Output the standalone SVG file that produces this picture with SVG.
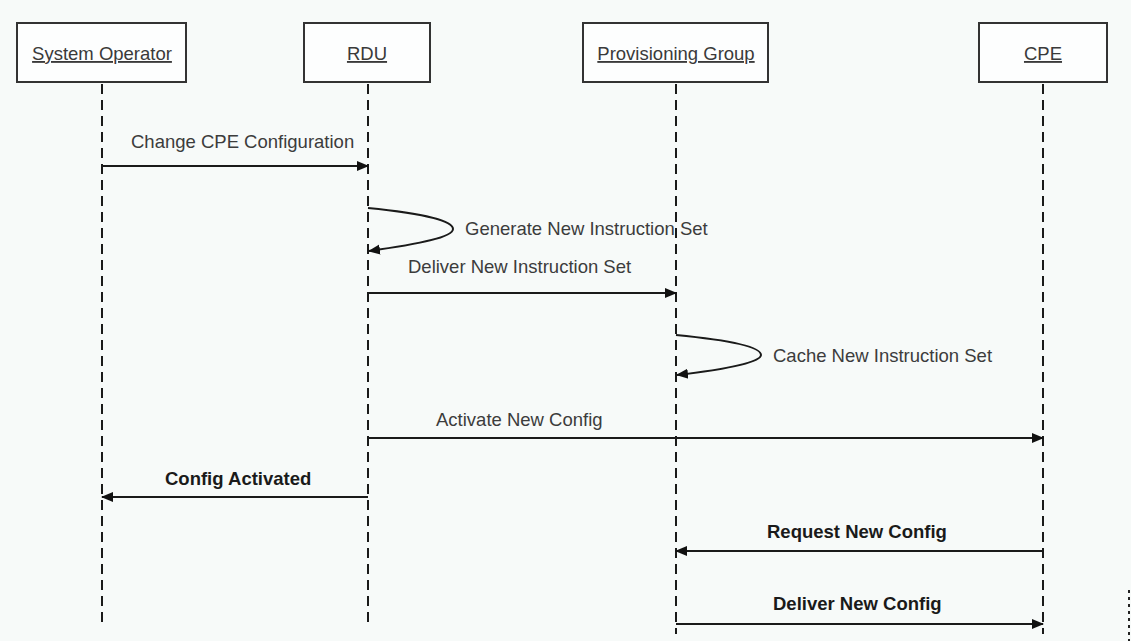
<svg xmlns="http://www.w3.org/2000/svg" width="1131" height="641" viewBox="0 0 1131 641">
<defs>
<marker id="arr" markerUnits="userSpaceOnUse" markerWidth="12" markerHeight="12" viewBox="0 0 12 12" refX="11" refY="6" orient="auto">
<path d="M0,1 L12,6 L0,11 z" fill="#111"/>
</marker>
<style>
.box{fill:#fdfefe;stroke:#333;stroke-width:2}
.hdr{font-family:"Liberation Sans",Arial,sans-serif;font-size:18.5px;fill:#3a3a3a;text-anchor:middle;text-decoration:underline}
.life{stroke:#1a1a1a;stroke-width:2;stroke-dasharray:10 6;fill:none}
.msg{stroke:#1a1a1a;stroke-width:2;fill:none;marker-end:url(#arr)}
.lbl{font-family:"Liberation Sans",Arial,sans-serif;font-size:18.5px;fill:#3c3c3c}
.lblb{font-family:"Liberation Sans",Arial,sans-serif;font-size:18.5px;fill:#1a1a1a;font-weight:bold}
</style>
</defs>
<rect width="1131" height="641" fill="#f7faf9"/>
<g id="system-operator">
<rect class="box" x="17" y="23" width="169" height="59"/>
<text class="hdr" x="102" y="60">System Operator</text>
<line class="life" x1="102" y1="84" x2="102" y2="622"/>
</g>
<g id="rdu">
<rect class="box" x="304" y="23" width="126" height="59"/>
<text class="hdr" x="367" y="60">RDU</text>
<line class="life" x1="368" y1="84" x2="368" y2="622"/>
</g>
<g id="provisioning-group">
<rect class="box" x="583" y="23" width="185" height="59"/>
<text class="hdr" x="676" y="60">Provisioning Group</text>
<line class="life" x1="676" y1="84" x2="676" y2="634"/>
</g>
<g id="cpe">
<rect class="box" x="979" y="23" width="128" height="59"/>
<text class="hdr" x="1043" y="60">CPE</text>
<line class="life" x1="1043" y1="84" x2="1043" y2="634"/>
</g>
<g id="connectors">
<line class="msg" x1="102" y1="166" x2="368" y2="166"/>
<path class="msg" d="M368,208 C430,214 453,222 453,229 C453,237 420,244 369,251"/>
<line class="msg" x1="368" y1="293" x2="676" y2="293"/>
<path class="msg" d="M676,335 C738,341 761,348 761,355 C761,362 728,369 677,375"/>
<line class="msg" x1="368" y1="438" x2="1043" y2="438"/>
<line class="msg" x1="368" y1="497" x2="102" y2="497"/>
<line class="msg" x1="1043" y1="551" x2="676" y2="551"/>
<line class="msg" x1="676" y1="624" x2="1043" y2="624"/>
</g>
<g id="labels">
<text class="lbl" x="131" y="148">Change CPE Configuration</text>
<text class="lbl" x="465" y="235">Generate New Instruction Set</text>
<text class="lbl" x="408" y="273">Deliver New Instruction Set</text>
<text class="lbl" x="773" y="362">Cache New Instruction Set</text>
<text class="lbl" x="436" y="426">Activate New Config</text>
<text class="lblb" x="165" y="485">Config Activated</text>
<text class="lblb" x="767" y="538">Request New Config</text>
<text class="lblb" x="773" y="610">Deliver New Config</text>
</g>
<line x1="1129" y1="590" x2="1129" y2="641" stroke="#222" stroke-width="2" stroke-dasharray="3 4"/>
</svg>
